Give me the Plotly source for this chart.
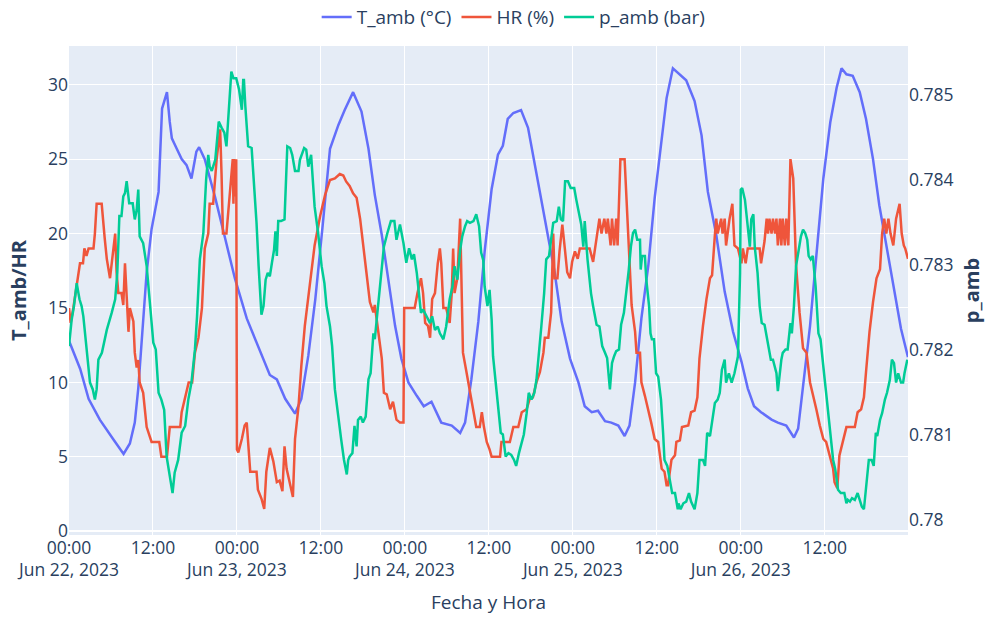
import pandas as pd
import plotly.graph_objects as go

START = "2023-06-22 00:00"

# hours since Jun 22 00:00 and values
t_hours = [0, 1.6, 2.8, 4.4, 6.3, 7.8, 8.7, 9.4, 9.9, 10.4, 11.1, 11.8, 12.8, 13.3, 14.0, 14.4, 14.7,
           15.4, 16.1, 16.8, 17.5, 18.2, 18.6, 19.4, 20.9, 22.3, 23.7, 25.4, 26.6, 27.8, 28.7, 29.7,
           30.9, 32.3, 33.2, 34.2, 35.2, 36.2, 37.3, 38.5, 39.4, 40.6, 41.8, 42.8, 43.7, 44.7, 45.6,
           46.6, 47.5, 48.5, 49.7, 50.7, 51.8, 53.2, 54.7, 55.9, 56.6, 57.5, 58.5, 59.4, 60.4, 61.3,
           62.0, 62.7, 63.5, 64.6, 65.6, 66.6, 67.5, 68.5, 69.4, 70.4, 71.6, 72.8, 73.7, 74.7, 75.6,
           76.6, 77.5, 78.5, 79.4, 80.1, 80.9, 81.8, 82.8, 83.7, 84.7, 85.4, 86.3, 87.3, 88.2, 89.4,
           90.4, 91.3, 92.5, 93.7, 94.9, 96.1, 97.0, 97.9, 98.9, 100.4, 101.3, 102.5, 103.6, 104.2,
           104.9, 105.9, 106.8, 107.8, 108.8, 109.7, 110.4, 111.1, 112.0, 113.0, 113.9, 114.9, 115.8,
           116.8, 118.0, 118.9, 119.9]
t_amb = [12.8, 10.9, 8.9, 7.5, 6.2, 5.2, 5.9, 7.3, 9.6, 12.9, 17.4, 20.3, 22.8, 28.4, 29.5, 27.5, 26.4,
         25.7, 25.0, 24.6, 23.7, 25.5, 25.8, 25.0, 22.4, 19.7, 17.0, 14.3, 12.9, 11.6, 10.5, 10.2,
         8.9, 7.9, 8.9, 11.8, 15.6, 20.3, 25.7, 27.3, 28.3, 29.5, 28.2, 25.7, 22.6, 19.9, 17.0,
         13.8, 11.6, 10.0, 9.1, 8.4, 8.7, 7.3, 7.1, 6.6, 7.3, 10.2, 14.1, 18.8, 23.0, 25.3,
         25.9, 27.7, 28.1, 28.3, 27.1, 24.6, 22.4, 19.7, 17.4, 14.1, 11.6, 10.0, 8.4, 8.0, 8.1,
         7.4, 7.3, 7.1, 6.4, 7.1, 10.0, 14.3, 17.9, 22.4, 26.4, 29.1, 31.1, 30.7, 30.3, 28.9,
         26.6, 22.8, 19.9, 16.1, 13.4, 11.4, 9.6, 8.4, 8.0, 7.5, 7.3, 7.1, 6.3, 6.9,
         9.6, 13.8, 18.5, 23.7, 27.5, 29.8, 31.1, 30.7, 30.6, 29.5, 27.7, 25.0, 21.9,
         19.2, 16.1, 13.6, 11.7]

hr_hours = [0, 0.24, 0.62, 1.1, 1.57, 2.0, 2.2, 2.5, 2.8, 3.5, 3.7, 3.95, 4.67, 5.1, 5.4, 5.86, 6.3,
            6.6, 6.8, 7.05, 7.5, 7.76, 8.0, 8.24, 8.5, 8.7, 8.95, 9.2, 9.4, 9.67, 9.9, 10.1, 10.6,
            11.1, 11.8, 12.9, 13.2, 14.0, 14.4, 15.9, 16.1, 16.6, 17.1, 17.6, 18.0, 18.5, 19.0,
            19.4, 19.9, 20.1, 20.6, 21.1, 21.6, 21.8, 22.0, 22.5, 22.8, 23.2, 23.4, 23.5, 23.6,
            23.7, 23.8, 23.9, 24.0, 24.2, 24.7, 25.1, 25.4, 25.9, 26.3, 26.8, 27.0, 27.5, 27.9,
            28.2, 28.7, 29.2, 29.7, 30.1, 30.5, 30.8, 31.1, 31.6, 32.0, 32.3, 32.8, 33.2, 33.7,
            34.4, 35.1, 35.9, 36.6, 37.3, 38.0, 38.7, 39.2, 39.6, 40.1, 40.6, 41.1, 41.6, 42.0,
            42.5, 43.0, 43.5, 43.7, 44.2, 44.7, 45.0, 45.4, 45.9, 46.3, 46.8, 47.3, 47.8, 47.9,
            48.5, 49.4, 49.8, 50.3, 50.6, 50.9, 51.3, 51.6, 51.9, 52.3, 52.7, 53.0, 53.2, 53.5,
            53.9, 54.4, 54.7, 54.9, 55.1, 55.5, 55.9, 56.1, 56.3, 56.8, 57.3, 57.8, 58.2, 58.7,
            59.0, 59.3, 59.7, 60.1, 60.4, 61.6, 61.8, 63.0, 63.5, 64.2, 64.7, 65.4, 65.9, 66.3,
            66.8, 67.3, 67.8, 68.0, 68.5, 68.9, 69.2, 69.4, 69.8, 70.1, 70.5, 70.9, 71.2, 71.6,
            71.9, 72.3, 72.7, 73.0, 74.4, 74.9, 75.4, 75.8, 76.1, 76.5, 76.8, 77.0, 77.4, 77.6,
            77.9, 78.2, 78.4, 78.8, 79.4, 79.9, 80.4, 80.9, 81.1, 81.6, 81.8, 82.3, 82.8, 83.2,
            83.7, 84.2, 84.7, 85.1, 85.4, 85.6, 86.1, 86.6, 86.8, 87.3, 87.6, 88.5, 88.9, 89.4,
            89.8, 90.1, 90.6, 91.1, 91.6, 91.9, 92.3, 92.5, 92.7, 93.2, 93.4, 93.7, 93.9, 94.4,
            94.8, 95.1, 95.6, 96.1, 96.3, 96.7, 97.0, 98.7, 98.9, 99.4, 99.7, 99.9, 100.1, 100.4,
            100.6, 100.9, 101.1, 101.3, 101.6, 101.8, 102.0, 102.3, 102.5, 102.8, 103.1, 103.5,
            103.9, 104.4, 104.9, 105.4, 105.9, 106.3, 106.8, 107.3, 107.8, 108.2, 108.7, 109.2,
            109.4, 109.8, 110.1, 110.6, 111.1, 112.3, 112.7, 113.2, 113.6, 113.9, 114.4, 114.9,
            115.4, 115.9, 116.2, 116.5, 116.8, 117.1, 117.4, 117.8, 118.2, 118.7, 119.0, 119.3,
            119.5, 119.9]
hr = [15, 14, 15, 16.5, 18, 18, 19, 18.5, 19, 19, 20, 22, 22, 19.7, 18.3, 17, 18.8,
      20, 17.4, 16, 16, 15.2, 18, 15.8, 13.4, 15, 14.5, 14.1, 12, 11, 11.5, 10, 9.3,
      7, 6, 6, 5, 5, 7, 7, 8, 9, 10, 10, 12, 13, 15,
      19, 20, 22, 22, 25, 27, 24, 20, 20, 21.7, 23.7, 25, 22, 25,
      22.5, 25, 25, 5.5, 5.3, 6.2, 7.1, 7.3, 4, 4, 4, 2.8, 2.2, 1.5,
      4, 5.6, 4.7, 3.3, 3.4, 2.7, 5.7, 4.2, 3.1, 2.3, 6.2, 8.4, 11.1, 13.8,
      16.5, 19.2, 21.2, 22.6, 23.6, 23.7, 24.0, 23.9, 23.5, 23.2, 22.7, 22.4, 21, 19.2,
      17.4, 15.4, 14.7, 15.2, 13.4, 11.6, 9.3, 9.2, 8.2, 8.7, 7.5, 7.3, 7.3, 15,
      15, 15, 16, 17, 16, 14, 13.8, 13, 15.6, 16, 18, 19, 18, 15,
      15, 14, 16, 19, 16, 17, 21, 17.4, 12, 10.7, 9.3, 8, 7, 7,
      8, 7, 6, 5.5, 5, 5, 6, 6, 7, 7, 8, 8.2, 9, 9,
      10, 10.7, 12, 13, 13, 14.7, 20, 17, 17, 18.8, 20.6, 18.8, 17.4, 17,
      18.1, 18.8, 18.3, 19, 19, 18.1, 19.7, 21, 20, 21, 20, 21, 19.2, 21,
      19.2, 21, 19.2, 25, 25, 19.7, 15.2, 13.4, 12, 12, 10, 9.1, 8.2, 7.3,
      6.2, 6, 4.2, 4, 3.1, 3.1, 4.8, 5.1, 6, 6.1, 7, 7.1, 8, 8.1,
      9, 11.6, 13.8, 15.6, 17, 17.2, 19.9, 21, 20, 21, 20, 21, 19.2, 21,
      22, 19.2, 19, 18, 19, 18, 19, 19, 18, 19.5, 21, 20, 21, 20,
      21, 20, 21, 19.2, 21, 19.2, 21, 19.2, 21, 19.2, 25, 23.7,
      17.9, 14.7, 12.3, 12, 10, 9.1, 8.2, 7.1, 6.2, 6, 5.1, 4.2,
      3.3, 2.9, 5.1, 6, 7, 7, 8, 8.2, 9, 10.7, 13.4, 15.4,
      17, 17.6, 20, 21, 20, 21, 20, 19.2, 21, 22, 20, 19.2,
      19, 18.3]

p_hours = [0, 0.38, 0.71, 1.1, 1.5, 1.8, 2.05, 2.6, 3.0, 3.4, 3.7, 3.95, 4.2, 4.7, 5.4, 6.1, 6.6,
           6.9, 7.2, 7.5, 7.76, 8.0, 8.24, 8.6, 9.1, 9.4, 9.67, 9.9, 10.1, 10.6, 11.1, 11.6, 12.05,
           12.4, 12.8, 13.2, 13.6, 13.95, 14.4, 14.8, 15.1, 15.6, 16.1, 16.6, 17.05, 17.5, 18.0,
           18.3, 18.7, 19.2, 19.6, 19.9, 20.1, 20.4, 20.9, 21.4, 21.8, 22.2, 22.5, 22.9, 23.2,
           23.5, 23.9, 24.3, 24.7, 24.9, 25.0, 25.2, 25.6, 26.1, 26.5, 26.8, 27.1, 27.5, 27.8,
           28.1, 28.4, 28.7, 29.0, 29.3, 29.5, 29.7, 29.9, 30.3, 30.8, 31.2, 31.6, 31.9, 32.3,
           32.8, 33.0, 33.3, 33.6, 33.9, 34.2, 34.6, 34.9, 35.1, 35.6, 36.1, 36.5, 36.8, 37.3,
           37.6, 38.0, 38.5, 38.9, 39.3, 39.7, 39.9, 40.1, 40.5, 40.8, 41.1, 41.3, 41.7, 42.0,
           42.4, 42.8, 43.1, 43.5, 43.7, 44.2, 44.6, 45.0, 45.5, 46.0, 46.5, 46.8, 47.3, 47.8,
           48.2, 48.6, 49.0, 49.3, 49.7, 50.0, 50.3, 50.6, 51.1, 51.6, 51.9, 52.3, 52.7, 53.0,
           53.5, 53.9, 54.4, 54.8, 55.1, 55.5, 55.9, 56.2, 56.6, 56.9, 57.3, 57.8, 58.2, 58.6,
           58.9, 59.2, 59.4, 59.8, 60.1, 60.4, 60.6, 61.0, 61.3, 61.7, 62.0, 62.4, 62.8, 63.2,
           63.6, 63.9, 64.3, 64.7, 65.0, 65.4, 65.7, 66.1, 66.5, 66.8, 67.1, 67.5, 67.9, 68.2,
           68.6, 68.9, 69.2, 69.7, 70.0, 70.3, 70.6, 70.9, 71.3, 71.7, 72.2, 72.5, 72.9, 73.2,
           73.5, 73.7, 74.1, 74.6, 74.9, 75.4, 75.8, 76.2, 76.6, 76.9, 77.3, 77.6, 77.9, 78.2,
           78.6, 78.9, 79.3, 79.7, 80.0, 80.3, 80.6, 80.9, 81.2, 81.6, 81.7, 81.9, 82.3, 82.5,
           82.9, 83.1, 83.3, 83.6, 83.9, 84.2, 84.6, 84.9, 85.1, 85.5, 85.9, 86.2, 86.6, 87.0,
           87.1, 87.4, 87.8, 88.2, 88.6, 88.9, 89.4, 89.8, 90.1, 90.6, 90.9, 91.2, 91.6, 91.9,
           92.3, 92.7, 93.0, 93.3, 93.7, 93.9, 94.3, 94.7, 95.1, 95.6, 95.9, 96.0, 96.2, 96.6,
           96.9, 97.3, 97.5, 97.8, 98.0, 98.4, 98.7, 99.0, 99.4, 99.8, 100.0, 100.3, 100.6, 100.9,
           101.1, 101.3, 101.6, 101.8, 102.0, 102.4, 102.7, 103.0, 103.1, 103.3, 103.6, 103.9,
           104.2, 104.6, 104.9, 105.2, 105.5, 105.7, 106.0, 106.3, 106.7, 107.0, 107.1, 107.4,
           107.6, 107.9, 108.2, 108.5, 108.9, 109.2, 109.5, 109.9, 110.3, 110.8, 111.1, 111.3,
           111.6, 111.9, 112.3, 112.7, 113.0, 113.3, 113.6, 113.9, 114.3, 114.7, 115.0, 115.3,
           115.5, 115.9, 116.2, 116.6, 116.9, 117.3, 117.6, 117.9, 118.2, 118.5, 118.9, 119.2,
           119.4, 119.8]
p_amb = [0.78205, 0.78236, 0.78252, 0.78279, 0.78260, 0.78252, 0.78240, 0.78193, 0.78162, 0.78154,
         0.78142, 0.78154, 0.78189, 0.78197, 0.78224, 0.78244, 0.78260, 0.78291, 0.78358, 0.78358,
         0.78381, 0.78385, 0.78399, 0.78373, 0.78373, 0.78354, 0.78365, 0.78389, 0.78334, 0.78326,
         0.78299, 0.78252, 0.78209, 0.78201, 0.78150, 0.78142, 0.78130, 0.78075, 0.78052, 0.78032,
         0.78056, 0.78071, 0.78103, 0.78111, 0.78142, 0.78162, 0.78201, 0.78240, 0.78307, 0.78338,
         0.78401, 0.78430, 0.78416, 0.78411, 0.78424, 0.78469, 0.78462, 0.78456, 0.78440, 0.78487,
         0.78528, 0.78520, 0.78520, 0.78507, 0.78483, 0.78518, 0.78518, 0.78487, 0.78440, 0.78438,
         0.78389, 0.78350, 0.78299, 0.78242, 0.78252, 0.78283, 0.78291, 0.78287, 0.78303, 0.78318,
         0.78340, 0.78311, 0.78352, 0.78352, 0.78354, 0.78440, 0.78438, 0.78430, 0.78411, 0.78411,
         0.78424, 0.78430, 0.78438, 0.78436, 0.78416, 0.78430, 0.78397, 0.78369, 0.78338, 0.78299,
         0.78279, 0.78252, 0.78228, 0.78205, 0.78154, 0.78118, 0.78095, 0.78071, 0.78054, 0.78071,
         0.78075, 0.78079, 0.78111, 0.78087, 0.78118, 0.78122, 0.78115, 0.78122, 0.78166, 0.78173,
         0.78220, 0.78213, 0.78252, 0.78291, 0.78322, 0.78338, 0.78352, 0.78352, 0.78330, 0.78348,
         0.78326, 0.78303, 0.78320, 0.78307, 0.78313, 0.78291, 0.78268, 0.78244, 0.78248, 0.78240,
         0.78232, 0.78240, 0.78224, 0.78228, 0.78220, 0.78213, 0.78228, 0.78260, 0.78275, 0.78299,
         0.78283, 0.78318, 0.78334, 0.78346, 0.78352, 0.78350, 0.78352, 0.78360, 0.78346, 0.78315,
         0.78306, 0.78275, 0.78252, 0.78271, 0.78236, 0.78193, 0.78162, 0.78142, 0.78103, 0.78101,
         0.78075, 0.78079, 0.78077, 0.78071, 0.78064, 0.78079, 0.78091, 0.78101, 0.78126, 0.78150,
         0.78142, 0.78150, 0.78165, 0.78189, 0.78228, 0.78267, 0.78307, 0.78311, 0.78330, 0.78350,
         0.78352, 0.78369, 0.78354, 0.78352, 0.78399, 0.78399, 0.78391, 0.78391, 0.78377, 0.78362,
         0.78348, 0.78322, 0.78352, 0.78307, 0.78267, 0.78252, 0.78230, 0.78228, 0.78205, 0.78197,
         0.78191, 0.78154, 0.78185, 0.78193, 0.78199, 0.78201, 0.78230, 0.78244, 0.78271, 0.78295,
         0.78322, 0.78338, 0.78342, 0.78330, 0.78330, 0.78295, 0.78311, 0.78311, 0.78283, 0.78252,
         0.78220, 0.78213, 0.78213, 0.78173, 0.78169, 0.78142, 0.78103, 0.78071, 0.78064, 0.78044,
         0.78032, 0.78032, 0.78013, 0.78020, 0.78013, 0.78020, 0.78022, 0.78032, 0.78022, 0.78013,
         0.78032, 0.78071, 0.78071, 0.78064, 0.78103, 0.78099, 0.78118, 0.78138, 0.78142, 0.78150,
         0.78177, 0.78189, 0.78162, 0.78173, 0.78162, 0.78173, 0.78193, 0.78291, 0.78389, 0.78391,
         0.78377, 0.78350, 0.78322, 0.78354, 0.78360, 0.78322, 0.78291, 0.78252, 0.78232, 0.78230,
         0.78213, 0.78201, 0.78189, 0.78189, 0.78177, 0.78173, 0.78152, 0.78177, 0.78189, 0.78197,
         0.78201, 0.78201, 0.78220, 0.78232, 0.78220, 0.78252, 0.78299, 0.78315, 0.78334, 0.78342,
         0.78338, 0.78330, 0.78311, 0.78307, 0.78311, 0.78275, 0.78232, 0.78220, 0.78213, 0.78193,
         0.78173, 0.78150, 0.78126, 0.78099, 0.78071, 0.78060, 0.78036, 0.78032, 0.78032, 0.78020,
         0.78024, 0.78022, 0.78026, 0.78024, 0.78032, 0.78024, 0.78016, 0.78013, 0.78036, 0.78071,
         0.78071, 0.78064, 0.78103, 0.78099, 0.78118, 0.78126, 0.78142, 0.78150, 0.78165, 0.78189,
         0.78185, 0.78162, 0.78173, 0.78162, 0.78162, 0.78173, 0.78189]

start = pd.Timestamp(START)
def to_dt(hours):
    return start + pd.to_timedelta(hours, unit="h")

fig = go.Figure()
fig.add_trace(go.Scatter(x=to_dt(t_hours), y=t_amb, mode="lines", name="T_amb (°C)",
                         line=dict(color="#636efa", width=2.5)))
fig.add_trace(go.Scatter(x=to_dt(hr_hours), y=hr, mode="lines", name="HR (%)",
                         line=dict(color="#EF553B", width=2.5)))
fig.add_trace(go.Scatter(x=to_dt(p_hours), y=p_amb, mode="lines", name="p_amb (bar)",
                         line=dict(color="#00cc96", width=2.5), yaxis="y2"))

fig.update_layout(
    width=985, height=618,
    template="plotly",
    font=dict(family="Open Sans, verdana, arial, sans-serif", size=17.5, color="#2a3f5f"),
    margin=dict(l=69, r=77, t=46, b=83, autoexpand=False),
    legend=dict(orientation="h", x=0.53, xanchor="center", y=1.02, yanchor="bottom",
                bgcolor="rgba(0,0,0,0)", font=dict(size=19)),
    xaxis=dict(title=dict(text="Fecha y Hora", font=dict(size=19)),
               range=[start, start + pd.Timedelta(hours=119.9)],
               dtick=12 * 3600 * 1000, tick0=START, automargin=False),
    yaxis=dict(title=dict(text="T_amb/HR", font=dict(size=20, weight="bold")),
               range=[-0.25, 32.6], dtick=5, automargin=False),
    yaxis2=dict(title=dict(text="p_amb", font=dict(size=20, weight="bold"), standoff=18),
                overlaying="y", side="right",
                range=[0.779827, 0.78558], dtick=0.001, showgrid=False, zeroline=False,
                automargin=False),
)

fig.write_html("out.html")
